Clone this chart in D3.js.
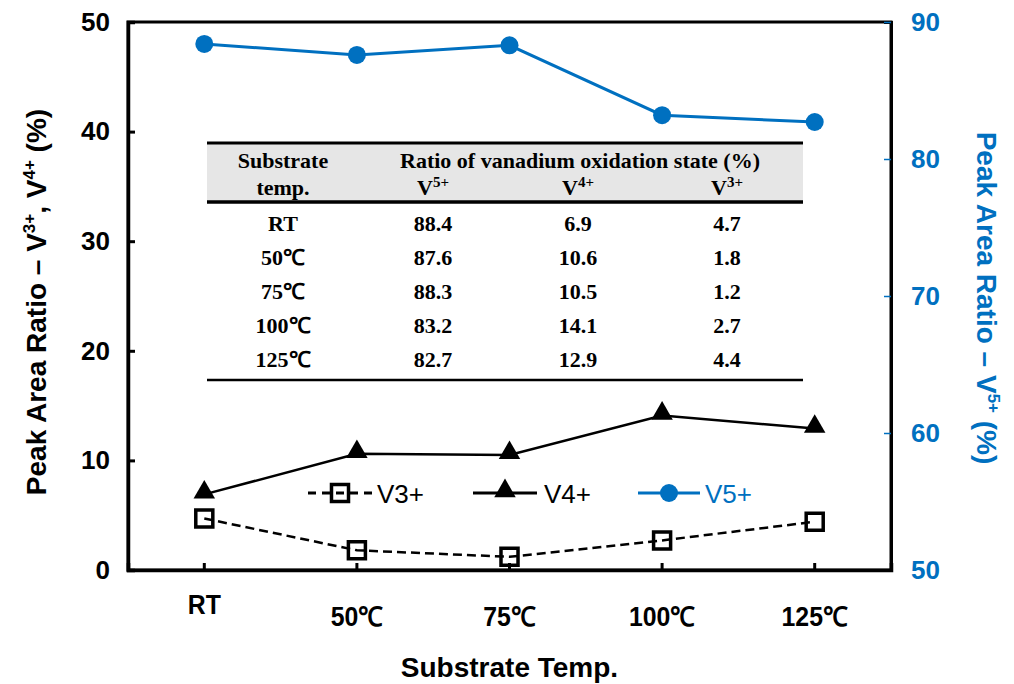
<!DOCTYPE html>
<html>
<head>
<meta charset="utf-8">
<script src="https://cdn.jsdelivr.net/npm/d3@7"></script>
<style>
  body { margin: 0; background: #fff; }
  svg { display: block; }
</style>
</head>
<body>
<div id="chart"></div>
<script>
// data
var temps = ["RT", "50\u2103", "75\u2103", "100\u2103", "125\u2103"];
var v3 = [4.7, 1.8, 1.2, 2.7, 4.4];
var v4 = [6.9, 10.6, 10.5, 14.1, 12.9];
var v5 = [88.4, 87.6, 88.3, 83.2, 82.7];
var leftTicks = [0, 10, 20, 30, 40, 50];
var rightTicks = [50, 60, 70, 80, 90];
var tableTemps = ["RT", "50\u2103", "75\u2103", "100\u2103", "125\u2103"];

var blue = "#0070C0";
var W = 1014, H = 684;
var m = { left: 128, right: 123, top: 22, bottom: 114 };

var svg = d3.select("#chart").append("svg")
  .attr("width", W)
  .attr("height", H)
  .style("font-family", "Arial, 'Liberation Sans', sans-serif");

var x = d3.scaleBand().domain(temps).range([m.left, W - m.right]).padding(0);
var yL = d3.scaleLinear().domain([0, 50]).range([H - m.bottom, m.top]);
var yR = d3.scaleLinear().domain([50, 90]).range([H - m.bottom, m.top]);
var cx = function(d, i) { return x(temps[i]) + x.bandwidth() / 2; };

// frame
svg.append("rect")
  .attr("x", m.left).attr("y", m.top)
  .attr("width", W - m.left - m.right)
  .attr("height", H - m.top - m.bottom)
  .attr("fill", "none").attr("stroke", "#000").attr("stroke-width", 3);

// left axis
var gL = svg.append("g").attr("transform", "translate(" + m.left + ",0)")
  .call(d3.axisLeft(yL).tickValues(leftTicks).tickSize(-7).tickPadding(18));
gL.select(".domain").attr("stroke-width", 3.5);
gL.selectAll(".tick line").attr("stroke-width", 3);
gL.selectAll("text").attr("font-size", 26).attr("font-weight", "bold").attr("fill", "#000");

// right axis
var gR = svg.append("g").attr("transform", "translate(" + (W - m.right) + ",0)")
  .call(d3.axisRight(yR).tickValues(rightTicks).tickSize(-7).tickPadding(20));
gR.select(".domain").attr("stroke", "#000").attr("stroke-width", 3);
gR.selectAll(".tick line").attr("stroke", blue).attr("stroke-width", 1.5);
gR.selectAll("text").attr("font-size", 26).attr("font-weight", "bold").attr("fill", blue);

// bottom axis
var gB = svg.append("g").attr("transform", "translate(0," + (H - m.bottom) + ")")
  .call(d3.axisBottom(x).tickSize(-7).tickPadding(44));
gB.select(".domain").attr("stroke-width", 3.5);
gB.selectAll(".tick line").attr("stroke-width", 3);
gB.selectAll("text")
  .attr("font-size", 27).attr("font-weight", "bold").attr("fill", "#000")
  .attr("transform", "scale(0.92,1)")
  .attr("dy", function(d, i) { return i === 0 ? "0.0em" : "0.45em"; });

// axis titles
svg.append("text")
  .attr("x", (m.left + W - m.right) / 2).attr("y", 677)
  .attr("text-anchor", "middle").attr("font-size", 28).attr("font-weight", "bold")
  .text("Substrate Temp.");

var tl = svg.append("text")
  .attr("transform", "translate(46," + ((m.top + H - m.bottom) / 2 + 6) + ") rotate(-90)")
  .attr("text-anchor", "middle").attr("font-size", 28).attr("font-weight", "bold");
tl.append("tspan").text("Peak Area Ratio \u2013 V");
tl.append("tspan").attr("font-size", 17).attr("dy", -11).text("3+");
tl.append("tspan").attr("dy", 11).text(", V");
tl.append("tspan").attr("font-size", 17).attr("dy", -11).text("4+");
tl.append("tspan").attr("dy", 11).text(" (%)");

var tr = svg.append("text")
  .attr("transform", "translate(977," + ((m.top + H - m.bottom) / 2 + 2) + ") rotate(90)")
  .attr("text-anchor", "middle").attr("font-size", 28).attr("font-weight", "bold").attr("fill", blue);
tr.append("tspan").text("Peak Area Ratio \u2013 V");
tr.append("tspan").attr("font-size", 17).attr("dy", -11).text("5+");
tr.append("tspan").attr("dy", 11).text(" (%)");

// table
var tbl = svg.append("g").attr("font-family", "'Liberation Serif', 'Times New Roman', serif")
  .attr("font-weight", "bold").attr("font-size", 22);
var tx0 = 207, tx1 = 803;
var colX = [283, 433, 578, 727];
tbl.append("rect").attr("x", tx0).attr("y", 143).attr("width", tx1 - tx0).attr("height", 59).attr("fill", "#e6e6e6");
[[143, 3], [202, 3.5], [380, 2.5]].forEach(function(l) {
  tbl.append("line").attr("x1", tx0).attr("x2", tx1).attr("y1", l[0]).attr("y2", l[0])
    .attr("stroke", "#000").attr("stroke-width", l[1]);
});
tbl.append("text").attr("x", colX[0]).attr("y", 168).attr("text-anchor", "middle").text("Substrate");
tbl.append("text").attr("x", colX[0]).attr("y", 195).attr("text-anchor", "middle").text("temp.");
tbl.append("text").attr("x", 580).attr("y", 168).attr("text-anchor", "middle").text("Ratio of vanadium oxidation state (%)");
["5+", "4+", "3+"].forEach(function(s, i) {
  var t = tbl.append("text").attr("x", colX[i + 1]).attr("y", 195).attr("text-anchor", "middle");
  t.append("tspan").text("V");
  t.append("tspan").attr("font-size", 15).attr("dy", -8).text(s);
});
tableTemps.forEach(function(t, i) {
  var ry = 231 + i * 34;
  var vals = [t, v5[i].toFixed(1), v4[i].toFixed(1), v3[i].toFixed(1)];
  vals.forEach(function(v, j) {
    tbl.append("text").attr("x", colX[j]).attr("y", ry).attr("text-anchor", "middle").text(v);
  });
});

// lines
var lineL = d3.line().x(cx).y(function(d) { return yL(d); });
var lineR = d3.line().x(cx).y(function(d) { return yR(d); });

svg.append("path").datum(v3).attr("d", lineL).attr("fill", "none")
  .attr("stroke", "#000").attr("stroke-width", 2.5).attr("stroke-dasharray", "9,5");
svg.append("path").datum(v4).attr("d", lineL).attr("fill", "none")
  .attr("stroke", "#000").attr("stroke-width", 2.5);
svg.append("path").datum(v5).attr("d", lineR).attr("fill", "none")
  .attr("stroke", blue).attr("stroke-width", 3);

var sq = d3.symbol().type(d3.symbolSquare).size(290);
var tri = d3.symbol().type(d3.symbolTriangle).size(200);

svg.selectAll(".m3").data(v3).enter().append("path")
  .attr("d", sq)
  .attr("transform", function(d, i) { return "translate(" + cx(d, i) + "," + yL(d) + ")"; })
  .attr("fill", "none").attr("stroke", "#000").attr("stroke-width", 3.5);
svg.selectAll(".m4").data(v4).enter().append("path")
  .attr("d", tri)
  .attr("transform", function(d, i) { return "translate(" + cx(d, i) + "," + (yL(d) - 2) + ")"; })
  .attr("fill", "#000");
svg.selectAll(".m5").data(v5).enter().append("circle")
  .attr("cx", cx).attr("cy", function(d) { return yR(d); }).attr("r", 9)
  .attr("fill", blue);

// legend
var lg = svg.append("g").attr("font-size", 26).attr("font-weight", "normal");
var ly = 493;
lg.append("line").attr("x1", 308).attr("x2", 372).attr("y1", ly).attr("y2", ly)
  .attr("stroke", "#000").attr("stroke-width", 3).attr("stroke-dasharray", "8,6");
lg.append("path").attr("d", sq).attr("transform", "translate(340," + ly + ")")
  .attr("fill", "none").attr("stroke", "#000").attr("stroke-width", 3.5);
lg.append("text").attr("x", 377).attr("y", ly + 10).text("V3+");

lg.append("line").attr("x1", 473).attr("x2", 537).attr("y1", ly).attr("y2", ly)
  .attr("stroke", "#000").attr("stroke-width", 3);
lg.append("path").attr("d", tri).attr("transform", "translate(505," + (ly - 2) + ")").attr("fill", "#000");
lg.append("text").attr("x", 544).attr("y", ly + 10).text("V4+");

lg.append("line").attr("x1", 638).attr("x2", 700).attr("y1", ly).attr("y2", ly)
  .attr("stroke", blue).attr("stroke-width", 3);
lg.append("circle").attr("cx", 669).attr("cy", ly).attr("r", 9).attr("fill", blue);
lg.append("text").attr("x", 705).attr("y", ly + 10).attr("fill", blue).text("V5+");
</script>
</body>
</html>
